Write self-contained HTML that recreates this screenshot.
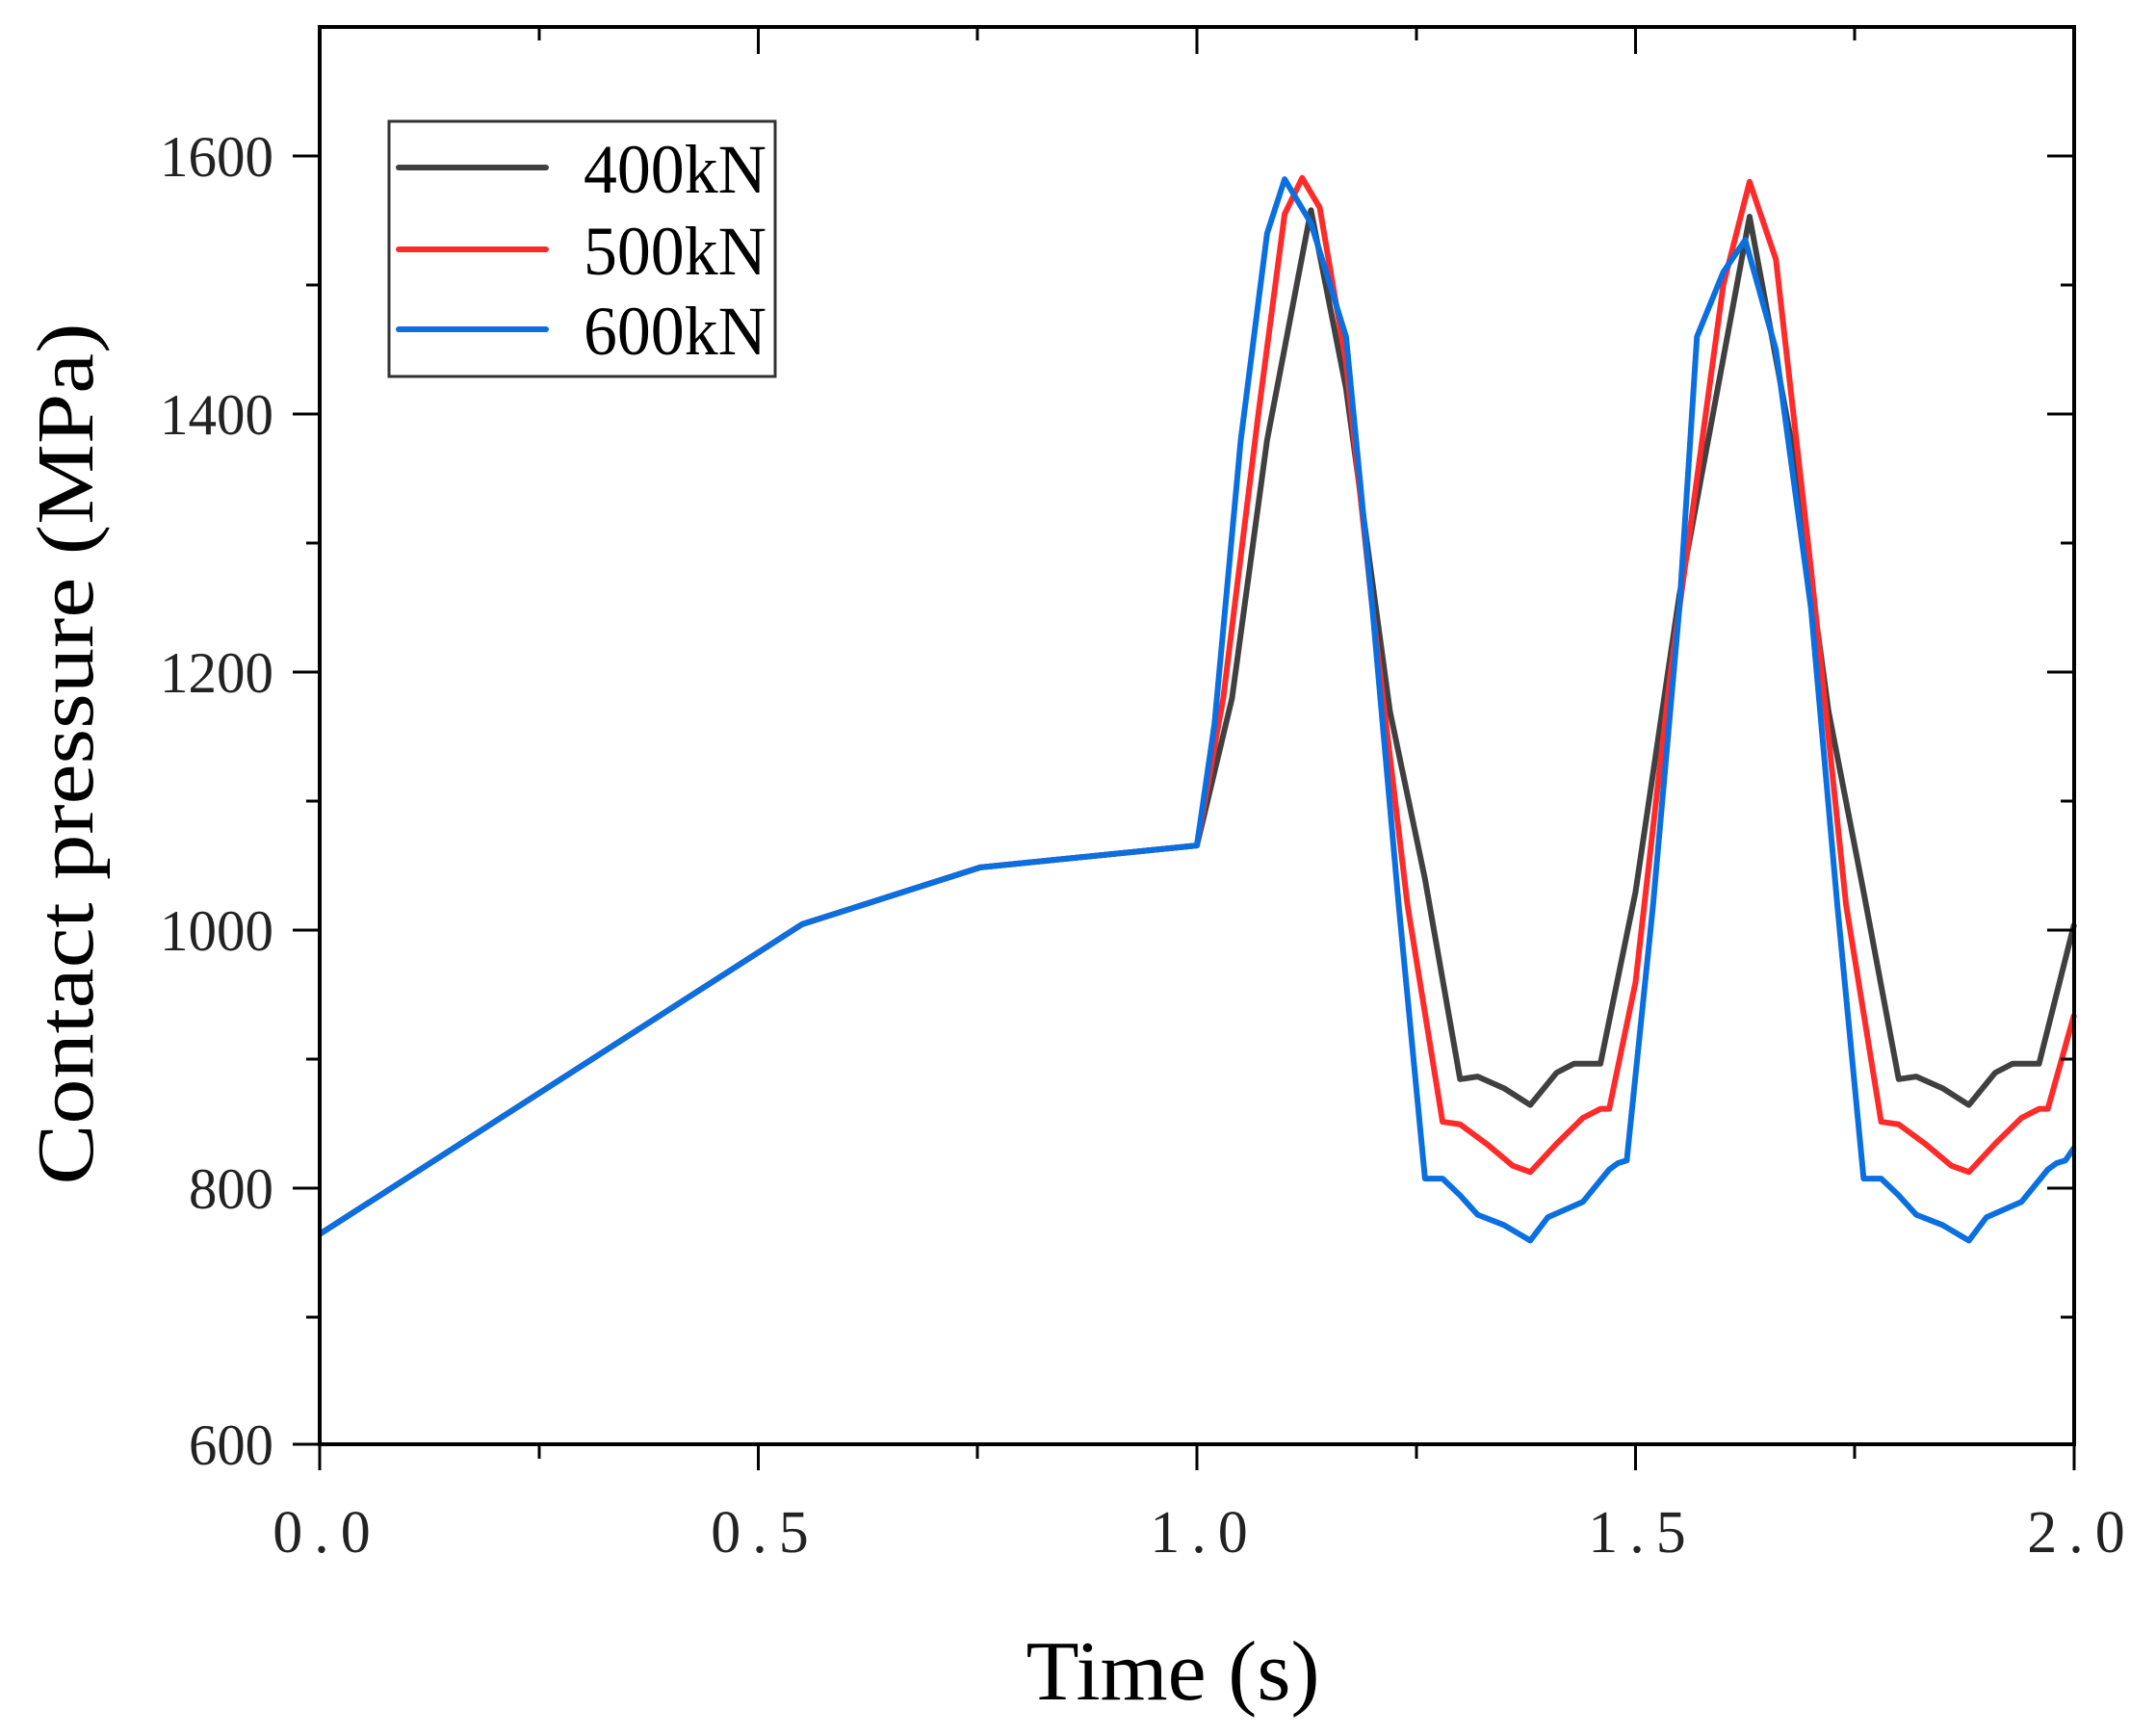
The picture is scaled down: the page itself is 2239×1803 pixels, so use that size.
<!DOCTYPE html>
<html><head><meta charset="utf-8"><style>html,body{margin:0;padding:0;background:#fff}svg{display:block}</style></head>
<body>
<svg width="2239" height="1803" viewBox="0 0 2239 1803" xmlns="http://www.w3.org/2000/svg" font-family="'Liberation Serif', serif">
<rect width="2239" height="1803" fill="#fff"/>
<g transform="matrix(911,0,0,-1.341,332,2307.6)" fill="none" stroke-linejoin="round" stroke-width="6">
<polyline vector-effect="non-scaling-stroke" stroke="#404040" points="0,765 0.55,1005 0.753,1049 1.0,1066 1.04,1180 1.08,1380 1.13,1558 1.17,1420 1.22,1170 1.26,1040 1.30,885 1.32,887 1.35,878 1.38,865 1.41,890 1.43,897 1.46,897 1.50,1030 1.55,1260 1.63,1553 1.68,1370 1.72,1170 1.76,1030 1.80,885 1.82,887 1.85,878 1.88,865 1.91,890 1.93,897 1.96,897 2.0,1005"/>
<polyline vector-effect="non-scaling-stroke" stroke="#ff2a2a" points="0,765 0.55,1005 0.753,1049 1.0,1066 1.03,1180 1.07,1400 1.10,1555 1.12,1583 1.14,1560 1.17,1440 1.20,1250 1.24,1020 1.28,852 1.30,850 1.33,835 1.36,818 1.38,813 1.41,835 1.44,855 1.46,862 1.47,862 1.50,960 1.54,1200 1.60,1500 1.63,1580 1.66,1520 1.70,1280 1.74,1020 1.78,852 1.80,850 1.83,835 1.86,818 1.88,813 1.91,835 1.94,855 1.96,862 1.97,862 2.0,935"/>
<polyline vector-effect="non-scaling-stroke" stroke="#0a6fe0" points="0,765 0.55,1005 0.753,1049 1.0,1066 1.02,1160 1.05,1380 1.08,1540 1.10,1582 1.13,1548 1.17,1460 1.20,1250 1.23,1020 1.26,808 1.28,808 1.30,795 1.32,780 1.35,772 1.38,760 1.40,778 1.44,790 1.47,815 1.48,820 1.49,822 1.52,1020 1.55,1250 1.57,1460 1.60,1510 1.625,1535 1.66,1450 1.70,1250 1.73,1020 1.76,808 1.78,808 1.80,795 1.82,780 1.85,772 1.88,760 1.90,778 1.94,790 1.97,815 1.98,820 1.99,822 2.0,832"/>
</g>
<rect x="332" y="28" width="1822" height="1472" stroke="#000" stroke-width="4" fill="none"/>
<g stroke="#000" stroke-width="3">
<line x1="304" y1="162" x2="332" y2="162"/><line x1="304" y1="430" x2="332" y2="430"/><line x1="304" y1="698" x2="332" y2="698"/><line x1="304" y1="966" x2="332" y2="966"/><line x1="304" y1="1234" x2="332" y2="1234"/><line x1="304" y1="1500" x2="332" y2="1500"/>
<line x1="318" y1="296" x2="332" y2="296"/><line x1="318" y1="564" x2="332" y2="564"/><line x1="318" y1="832" x2="332" y2="832"/><line x1="318" y1="1100" x2="332" y2="1100"/><line x1="318" y1="1368" x2="332" y2="1368"/>
<line x1="2126" y1="162" x2="2154" y2="162"/><line x1="2126" y1="430" x2="2154" y2="430"/><line x1="2126" y1="698" x2="2154" y2="698"/><line x1="2126" y1="966" x2="2154" y2="966"/><line x1="2126" y1="1234" x2="2154" y2="1234"/>
<line x1="2140" y1="296" x2="2154" y2="296"/><line x1="2140" y1="564" x2="2154" y2="564"/><line x1="2140" y1="832" x2="2154" y2="832"/><line x1="2140" y1="1100" x2="2154" y2="1100"/><line x1="2140" y1="1368" x2="2154" y2="1368"/>
<line x1="332" y1="1500" x2="332" y2="1527"/><line x1="787.5" y1="1500" x2="787.5" y2="1527"/><line x1="1243" y1="1500" x2="1243" y2="1527"/><line x1="1698.5" y1="1500" x2="1698.5" y2="1527"/><line x1="2154" y1="1500" x2="2154" y2="1527"/>
<line x1="560" y1="1500" x2="560" y2="1515"/><line x1="1015" y1="1500" x2="1015" y2="1515"/><line x1="1471" y1="1500" x2="1471" y2="1515"/><line x1="1926" y1="1500" x2="1926" y2="1515"/>
<line x1="787.5" y1="28" x2="787.5" y2="56"/><line x1="1243" y1="28" x2="1243" y2="56"/><line x1="1698.5" y1="28" x2="1698.5" y2="56"/>
<line x1="560" y1="28" x2="560" y2="42"/><line x1="1015" y1="28" x2="1015" y2="42"/><line x1="1471" y1="28" x2="1471" y2="42"/><line x1="1926" y1="28" x2="1926" y2="42"/>
</g>
<g font-size="60" fill="#222" text-anchor="end">
<text x="284" y="183" textLength="118" lengthAdjust="spacingAndGlyphs">1600</text><text x="284" y="451" textLength="118" lengthAdjust="spacingAndGlyphs">1400</text><text x="284" y="719" textLength="118" lengthAdjust="spacingAndGlyphs">1200</text><text x="284" y="987" textLength="118" lengthAdjust="spacingAndGlyphs">1000</text><text x="284" y="1255" textLength="88" lengthAdjust="spacingAndGlyphs">800</text><text x="284" y="1521" textLength="88" lengthAdjust="spacingAndGlyphs">600</text>
</g>
<g font-size="62" fill="#222" text-anchor="middle" letter-spacing="12">
<text x="340" y="1612">0.0</text><text x="795" y="1612">0.5</text><text x="1251" y="1612">1.0</text><text x="1706" y="1612">1.5</text><text x="2162" y="1612">2.0</text>
</g>
<text x="1218" y="1765" font-size="88" text-anchor="middle" fill="#000" textLength="305" lengthAdjust="spacingAndGlyphs">Time (s)</text>
<text transform="translate(96,783) rotate(-90)" font-size="84" text-anchor="middle" fill="#000" textLength="895" lengthAdjust="spacingAndGlyphs">Contact pressure (MPa)</text>
<rect x="404" y="126" width="401" height="265" fill="#fff" stroke="#333" stroke-width="3"/>
<g stroke-width="6" stroke-linecap="round">
<line x1="414" y1="174" x2="567" y2="174" stroke="#404040"/>
<line x1="414" y1="259" x2="567" y2="259" stroke="#ff2a2a"/>
<line x1="414" y1="342" x2="567" y2="342" stroke="#0a6fe0"/>
</g>
<g font-size="72" fill="#000">
<text x="606" y="200" textLength="190" lengthAdjust="spacingAndGlyphs">400kN</text>
<text x="606" y="285" textLength="190" lengthAdjust="spacingAndGlyphs">500kN</text>
<text x="606" y="368" textLength="190" lengthAdjust="spacingAndGlyphs">600kN</text>
</g>
</svg>
</body></html>
